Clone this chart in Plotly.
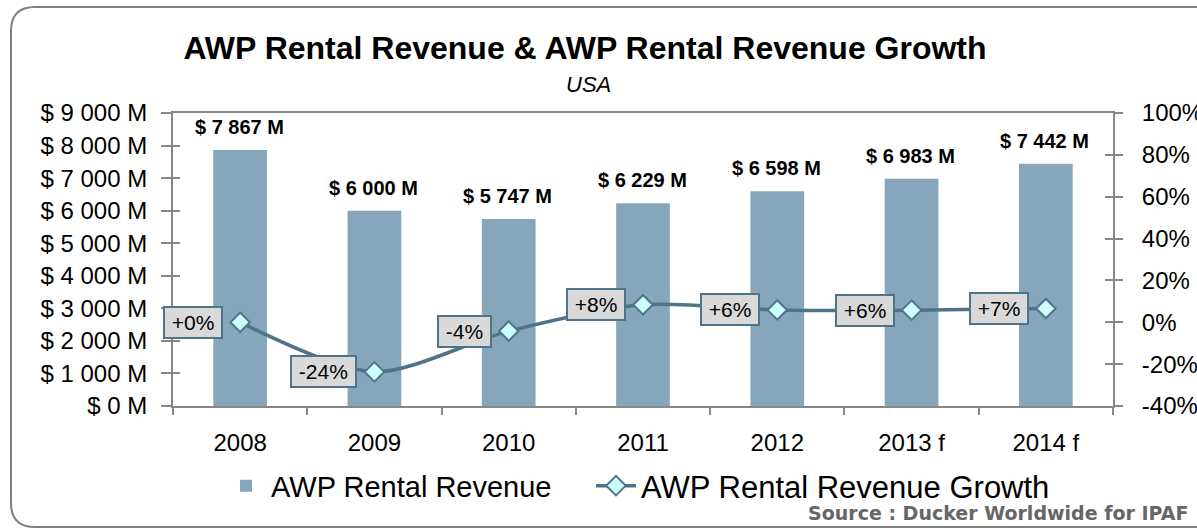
import plotly.graph_objects as go

years = ["2008", "2009", "2010", "2011", "2012", "2013 f", "2014 f"]
revenue = [7867, 6000, 5747, 6229, 6598, 6983, 7442]
growth = [0.0, -23.7, -4.2, 8.4, 5.9, 5.8, 6.6]
left_ticks = [0, 1000, 2000, 3000, 4000, 5000, 6000, 7000, 8000, 9000]
left_labels = ["$ " + f"{v:,}".replace(",", " ") + " M" for v in left_ticks]
right_ticks = [-40, -20, 0, 20, 40, 60, 80, 100]
right_labels = [f"{v}%" for v in right_ticks]
rev_labels = ["$ " + f"{v:,}".replace(",", " ") + " M" for v in revenue]
growth_labels = [f"{round(g):+d}%" for g in growth]

W, H = 1197, 528
L, R, T, B = 173, 1113, 113, 406
FONT = "Liberation Sans, Arial, sans-serif"
BAR = "#86a6bb"
LINE = "#4f7489"
AX = "#878787"


def px(x):
    return (x - L) / (R - L)


def py(y):
    return 1 - (y - T) / (B - T)


fig = go.Figure()
fig.add_trace(go.Bar(x=years, y=revenue, name="AWP Rental Revenue",
                     marker=dict(color=BAR, line=dict(width=0)), width=0.4,
                     yaxis="y", hoverinfo="skip", legend="legend"))
fig.add_trace(go.Scatter(x=years, y=growth, name="AWP Rental Revenue Growth",
                         mode="lines+markers", yaxis="y2", legend="legend2",
                         line=dict(color=LINE, width=3.5, shape="spline", smoothing=0.8),
                         marker=dict(symbol="diamond", size=15, color="#ccffff",
                                     line=dict(color=LINE, width=2)),
                         hoverinfo="skip"))
# invisible helper traces so the overlay (inside-tick) axes are drawn
fig.add_trace(go.Scatter(x=years, y=revenue, yaxis="y3", mode="none", showlegend=False, hoverinfo="skip"))
fig.add_trace(go.Scatter(x=years, y=growth, yaxis="y4", mode="none", showlegend=False, hoverinfo="skip"))

ann = []
for i, (v, t) in enumerate(zip(revenue, rev_labels)):
    ann.append(dict(x=i, y=v, xref="x", yref="y", text="<b>" + t + "</b>", showarrow=False,
                    yanchor="bottom", yshift=10, xshift=-1,
                    font=dict(family=FONT, size=20, color="#000")))
for i, (g, t) in enumerate(zip(growth, growth_labels)):
    ann.append(dict(x=i, y=g, xref="x", yref="y2", text="\u00a0" + t + "\u00a0", showarrow=False,
                    xanchor="right", yanchor="middle", xshift=-17,
                    bgcolor="#d9d9d9", bordercolor=LINE, borderwidth=2, borderpad=1, height=27,
                    font=dict(family=FONT, size=21, color="#000")))
ann.append(dict(x=px(588), y=py(84), xref="paper", yref="paper", text="<i>USA</i>",
                showarrow=False, xanchor="center", yanchor="middle",
                font=dict(family=FONT, size=22, color="#000")))
ann.append(dict(x=px(1190), y=py(513), xref="paper", yref="paper",
                text="<b>Source : Ducker Worldwide for IPAF</b>", showarrow=False,
                xanchor="right", yanchor="middle",
                font=dict(family="DejaVu Sans, Verdana, sans-serif", size=19, color="#666666")))

pts = [(1215, 7), (35, 7), (11, 7), (11, 31), (11, 503), (11, 527), (35, 527), (1215, 527)]
c = [(px(a), py(b)) for a, b in pts]
path = (f"M {c[0][0]},{c[0][1]} L {c[1][0]},{c[1][1]} Q {c[2][0]},{c[2][1]} {c[3][0]},{c[3][1]} "
        f"L {c[4][0]},{c[4][1]} Q {c[5][0]},{c[5][1]} {c[6][0]},{c[6][1]} L {c[7][0]},{c[7][1]}")

fig.update_layout(
    width=W, height=H,
    margin=dict(l=L, r=W - R, t=T, b=H - B, pad=0, autoexpand=False),
    paper_bgcolor="white", plot_bgcolor="white",
    font=dict(family=FONT, color="#000"),
    title=dict(text="<b>AWP Rental Revenue & AWP Rental Revenue Growth</b>",
               x=585 / W, xanchor="center", xref="container",
               y=1 - 48 / H, yanchor="middle", yref="container",
               font=dict(family=FONT, size=32, color="#000")),
    bargap=0.6,
    showlegend=True,
    legend=dict(orientation="h", x=px(221), xanchor="left", y=py(486), yanchor="middle",
                font=dict(family=FONT, size=29, color="#000"), itemwidth=40,
                bgcolor="rgba(0,0,0,0)"),
    legend2=dict(orientation="h", x=px(591), xanchor="left", y=py(486), yanchor="middle",
                 font=dict(family=FONT, size=31, color="#000"), itemwidth=40,
                 bgcolor="rgba(0,0,0,0)"),
    xaxis=dict(type="category", categoryorder="array", categoryarray=years,
               range=[-0.5, len(years) - 0.5], automargin=False,
               showline=True, linecolor=AX, linewidth=2, mirror=True,
               ticks="outside", ticklen=7, tickwidth=2, tickcolor=AX, tickson="boundaries",
               showgrid=False, ticklabelstandoff=14, tickangle=0,
               tickfont=dict(family=FONT, size=24, color="#000")),
    yaxis=dict(range=[0, 9000], tickvals=left_ticks, ticktext=left_labels, automargin=False,
               showline=True, linecolor=AX, linewidth=2, ticks="outside", ticklen=10,
               tickwidth=2, tickcolor=AX, showgrid=False, zeroline=False,
               ticklabelstandoff=9, tickfont=dict(family=FONT, size=24, color="#000")),
    yaxis2=dict(range=[-40, 100], tickvals=right_ticks, ticktext=right_labels,
                side="right", overlaying="y", automargin=False,
                showline=True, linecolor=AX, linewidth=2, ticks="outside", ticklen=8,
                tickwidth=2, tickcolor=AX, showgrid=False, zeroline=False,
                ticklabelstandoff=14, tickfont=dict(family=FONT, size=24, color="#000")),
    yaxis3=dict(range=[0, 9000], tickvals=left_ticks, overlaying="y", side="left",
                showticklabels=False, ticks="inside", ticklen=7, tickwidth=2, tickcolor=AX,
                showline=False, showgrid=False, zeroline=False, automargin=False),
    yaxis4=dict(range=[-40, 100], tickvals=right_ticks, overlaying="y", side="right",
                showticklabels=False, ticks="inside", ticklen=8, tickwidth=2, tickcolor=AX,
                showline=False, showgrid=False, zeroline=False, automargin=False),
    annotations=ann,
    shapes=[dict(type="path", xref="paper", yref="paper", path=path,
                 line=dict(color="#7f7f7f", width=2), fillcolor="rgba(0,0,0,0)", layer="above")],
)

fig.write_html("out.html", post_script="document.body.style.margin='0';",
               config={"displayModeBar": False})
